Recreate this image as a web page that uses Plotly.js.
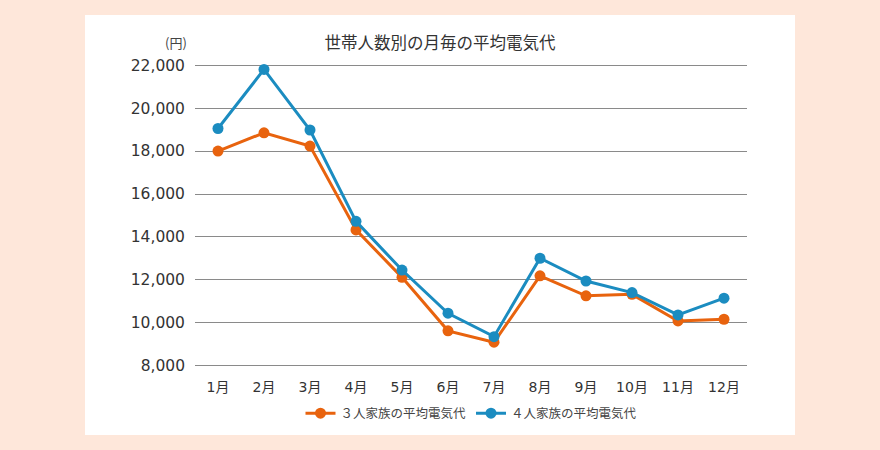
<!DOCTYPE html>
<html>
<head>
<meta charset="utf-8">
<script src="https://cdn.plot.ly/plotly-3.0.1.min.js"></script>
<style>
  html, body { margin:0; padding:0; background:#FEE7DA; }
  #panel { position:absolute; left:85px; top:15px; width:710px; height:420px; background:#ffffff; }
  #chart { position:absolute; left:0; top:0; width:880px; height:450px; }
</style>
</head>
<body>
<div id="panel"></div>
<div id="chart"></div>
<script>
const months = ["1月","2月","3月","4月","5月","6月","7月","8月","9月","10月","11月","12月"];
const family3 = [18000, 18850, 18230, 14330, 12120, 9630, 9100, 12190, 11260, 11330, 10090, 10170];
const family4 = [19050, 21800, 18980, 14730, 12460, 10450, 9360, 13010, 11950, 11410, 10370, 11150];
const name3 = "３人家族の平均電気代";
const name4 = "４人家族の平均電気代";
const yTicks = [8000, 10000, 12000, 14000, 16000, 18000, 20000, 22000];
const yTickText = ["8,000","10,000","12,000","14,000","16,000","18,000","20,000","22,000"];

const font = "'Noto Sans CJK JP', 'Noto Sans', sans-serif";
const numFont = "'DejaVu Sans', 'Noto Sans CJK JP', sans-serif";

const traces = [
  { x: months, y: family3, name: name3, type: "scatter", mode: "lines+markers",
    line: { color: "#E8630E", width: 3 }, marker: { color: "#E8630E", size: 11 } },
  { x: months, y: family4, name: name4, type: "scatter", mode: "lines+markers",
    line: { color: "#1B8CC0", width: 3 }, marker: { color: "#1B8CC0", size: 11 } }
];

const layout = {
  width: 880, height: 450,
  paper_bgcolor: "rgba(0,0,0,0)", plot_bgcolor: "rgba(0,0,0,0)",
  margin: { l: 195, r: 133, t: 63, b: 82 },
  font: { family: font, color: "#333333" },
  title: { text: "世帯人数別の月毎の平均電気代", xref: "container", x: 0.5, xanchor: "center",
           y: 0.905, yanchor: "middle", font: { size: 16.5, color: "#333" } },
  showlegend: true,
  legend: { orientation: "h", x: 0.5, xanchor: "center", y: -0.10, yanchor: "top",
            font: { size: 12.5, color: "#444" }, tracegroupgap: 0 },
  xaxis: { type: "category", range: [-0.5, 11.5], showgrid: false, zeroline: false, showline: false,
           ticks: "", ticklabelstandoff: 9, tickfont: { family: numFont, size: 14, color: "#333" }, fixedrange: true },
  yaxis: { range: [7900, 22100], tickvals: yTicks, ticktext: yTickText, showgrid: true,
           gridcolor: "#8a8a8a", gridwidth: 1, zeroline: false, showline: false, ticks: "",
           ticklabelstandoff: 9, tickfont: { family: numFont, size: 15.5, color: "#333" }, fixedrange: true },
  annotations: [
    { text: "(円)", xref: "paper", yref: "paper", x: -0.01, y: 1.03, xanchor: "right", yanchor: "bottom",
      showarrow: false, font: { size: 13, color: "#444" } }
  ]
};

Plotly.newPlot("chart", traces, layout, { displayModeBar: false, staticPlot: true });
</script>
</body>
</html>
